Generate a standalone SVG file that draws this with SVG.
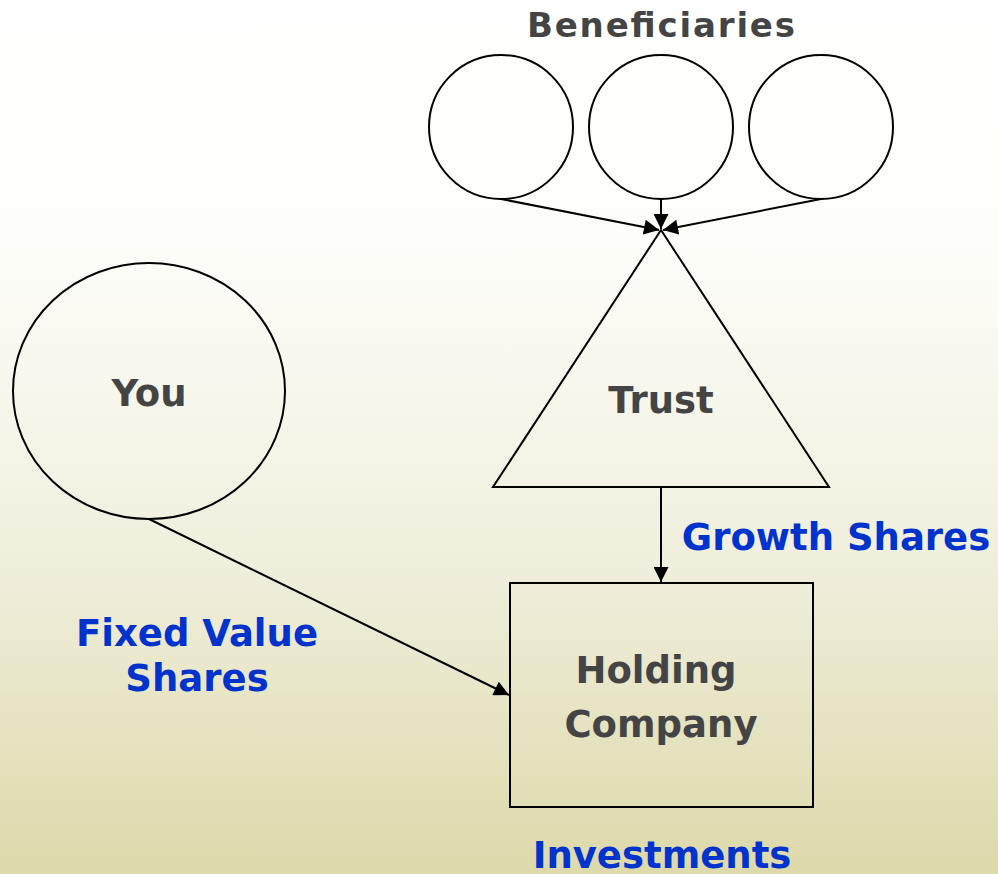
<svg xmlns="http://www.w3.org/2000/svg" width="998" height="874" viewBox="0 0 998 874">
  <defs>
    <linearGradient id="bg" x1="0" y1="0" x2="0" y2="1">
      <stop offset="0" stop-color="#FFFFFF"/>
      <stop offset="0.3" stop-color="#FDFDF8"/>
      <stop offset="0.65" stop-color="#F0EEDC"/>
      <stop offset="1" stop-color="#DDD9AA"/>
    </linearGradient>
    <marker id="arrowLg" viewBox="0 0 10 10" refX="10" refY="5" markerWidth="16" markerHeight="15" markerUnits="userSpaceOnUse" orient="auto">
      <path d="M0,0 L10,5 L0,10 Z" fill="#000"/>
    </marker>
  </defs>
  <style>
    .shape { fill: none; stroke: #000; stroke-width: 2; }
    .edge { fill: none; stroke: #000; stroke-width: 2; }
    .title { font-family: "DejaVu Sans", Verdana, sans-serif; font-weight: bold; fill: #444444; text-anchor: middle; font-size: 37px; }
    .lbl { font-family: "DejaVu Sans", Verdana, sans-serif; font-weight: bold; fill: #0033CC; text-anchor: middle; font-size: 37px; }
  </style>

  <rect x="0" y="0" width="998" height="874" fill="url(#bg)"/>

  <text class="title" x="661" y="37" style="font-size:34px" textLength="268" lengthAdjust="spacing">Beneficiaries</text>

  <g id="beneficiary-1">
    <circle class="shape" cx="501" cy="127" r="72"/>
  </g>
  <g id="beneficiary-2">
    <circle class="shape" cx="661" cy="127" r="72"/>
  </g>
  <g id="beneficiary-3">
    <circle class="shape" cx="821" cy="127" r="72"/>
  </g>

  <g id="trust">
    <polygon class="shape" points="661,230 829,487 493,487"/>
    <text class="title" x="661" y="413">Trust</text>
  </g>

  <g id="you">
    <ellipse class="shape" cx="149" cy="391" rx="136" ry="128"/>
    <text class="title" x="149" y="406">You</text>
  </g>

  <g id="holding-company">
    <rect class="shape" x="510" y="583" width="303" height="224"/>
    <text class="title" x="656" y="683">Holding</text>
    <text class="title" x="661" y="737">Company</text>
  </g>

  <g id="connectors">
    <line class="edge" x1="501" y1="199" x2="659" y2="230" marker-end="url(#arrowLg)"/>
    <line class="edge" x1="661" y1="199" x2="661" y2="229" marker-end="url(#arrowLg)"/>
    <line class="edge" x1="821" y1="199" x2="663" y2="230" marker-end="url(#arrowLg)"/>
    <line class="edge" x1="661" y1="487" x2="661" y2="582" marker-end="url(#arrowLg)"/>
    <line class="edge" x1="149" y1="519" x2="509" y2="695" marker-end="url(#arrowLg)"/>
  </g>

  <g id="labels">
    <text class="lbl" x="836" y="550">Growth Shares</text>
    <text class="lbl" x="197" y="646">Fixed Value</text>
    <text class="lbl" x="197" y="691">Shares</text>
    <text class="lbl" x="662" y="868">Investments</text>
  </g>
</svg>
